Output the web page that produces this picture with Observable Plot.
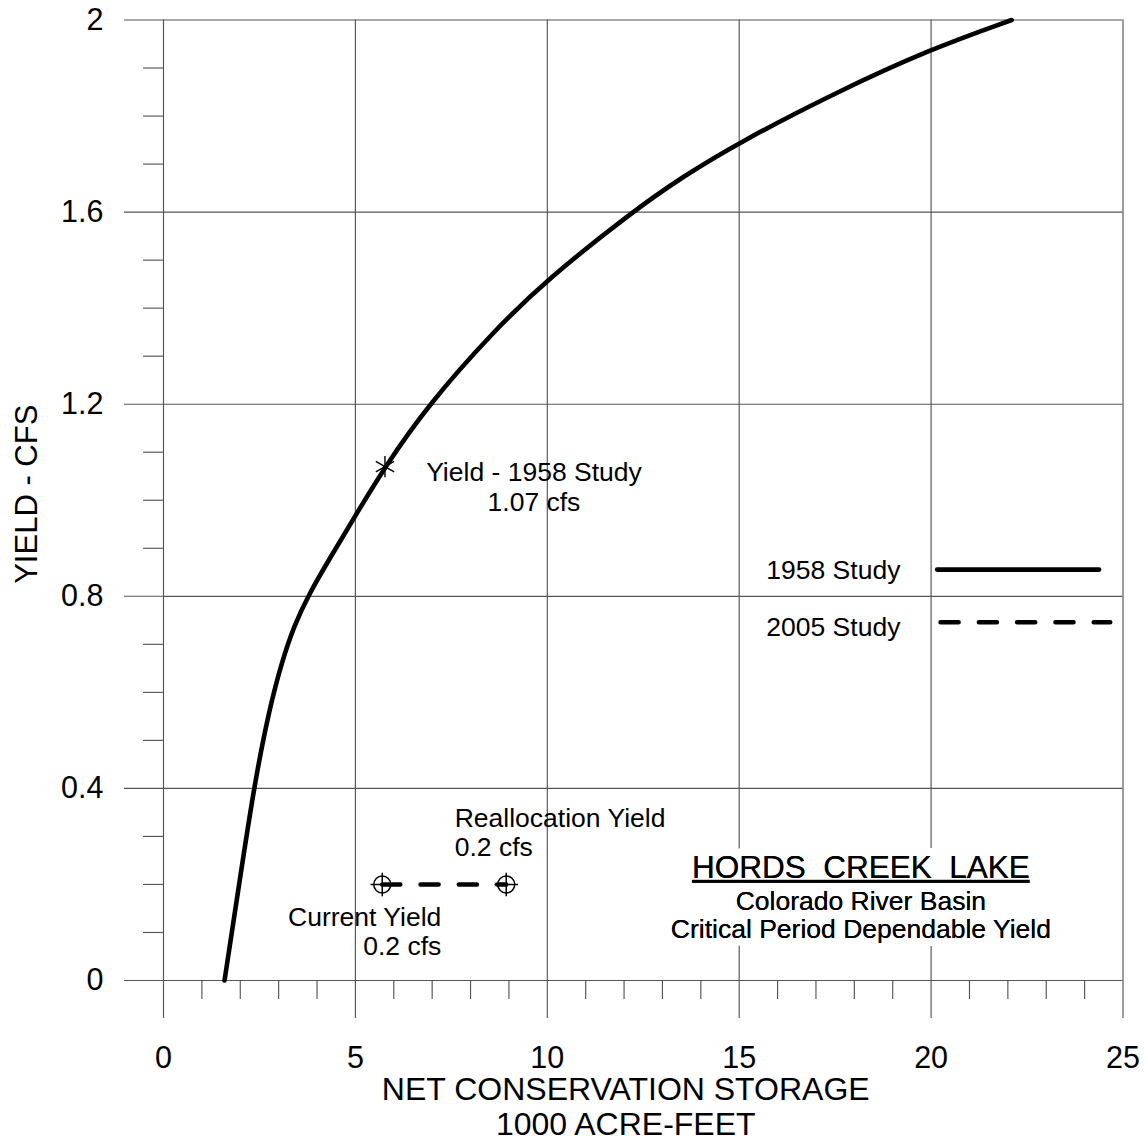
<!DOCTYPE html>
<html>
<head>
<meta charset="utf-8">
<script src="https://cdn.jsdelivr.net/npm/d3@7"></script>
<script src="https://cdn.jsdelivr.net/npm/@observablehq/plot@0.6"></script>
<style>
  html, body { margin: 0; padding: 0; background: #fff; }
  #chart svg { display: block; }
  #chart svg text { white-space: pre; }
</style>
</head>
<body>
<div id="chart"></div>
<script>
// 1958 study: net conservation storage (1000 acre-feet) vs. dependable yield (cfs)
const storage1958 = [1.59, 1.97, 2.35, 2.74, 3.09, 3.40, 3.78, 4.31, 5.0, 5.77, 6.91, 8.60, 10.0, 12.2, 13.55, 15.0, 17.46, 20.0, 22.1];
const yield1958   = [0, 0.20, 0.40, 0.56, 0.665, 0.738, 0.803, 0.876, 0.968, 1.07, 1.20, 1.352, 1.46, 1.60, 1.675, 1.745, 1.847, 1.94, 2.00];

// Yield reported by the 1958 study
const studyStorage = 5.77;
const studyYield = 1.07;

// 2005 study: current and reallocation yields
const storage2005 = [5.7, 8.93];
const yield2005 = [0.2, 0.2];
const names2005 = ["Current Yield", "Reallocation Yield"];

// Axis ticks and labels
const xTicks = [0, 5, 10, 15, 20, 25];
const xTickLabels = ["0", "5", "10", "15", "20", "25"];
const xMinorTicks = [1, 2, 3, 4, 6, 7, 8, 9, 11, 12, 13, 14, 16, 17, 18, 19, 21, 22, 23, 24];
const yTicks = [0, 0.4, 0.8, 1.2, 1.6, 2];
const yTickLabels = ["0", "0.4", "0.8", "1.2", "1.6", "2"];
const yMinorTicks = [0.1, 0.2, 0.3, 0.5, 0.6, 0.7, 0.9, 1.0, 1.1, 1.3, 1.4, 1.5, 1.7, 1.8, 1.9];

// Legend entries
const legendLabels = ["1958 Study", "2005 Study"];

// Title block
const titleLines = ["HORDS  CREEK  LAKE", "Colorado River Basin", "Critical Period Dependable Yield"];

const curve1958 = storage1958.map((s, i) => ({storage: s, yield: yield1958[i]}));
const points2005 = storage2005.map((s, i) => ({storage: s, yield: yield2005[i], name: names2005[i]}));
const studyPoint = [{storage: studyStorage, yield: studyYield}];

const xLabel = new Map(xTicks.map((t, i) => [t, xTickLabels[i]]));
const yLabel = new Map(yTicks.map((t, i) => [t, yTickLabels[i]]));

const gray = "#555";
const lineW = 1.15;
const dash = "18,20.3";
const font = "'Liberation Sans', Arial, sans-serif";

// title block: white halo underneath, then the lettering itself
const titleMarks = (halo) => [
  Plot.text([titleLines[0]], {x: 18.17, y: 0.2349, text: d => d, fontSize: 31.5, fill: "#000",
    ...(halo ? {stroke: "#fff", strokeWidth: 16} : {className: "lake-title"})}),
  Plot.text(titleLines.slice(1), {x: 18.17, y: [0.1649, 0.1062], text: d => d, fontSize: 26.5, fill: "#000",
    ...(halo ? {stroke: "#fff", strokeWidth: 16} : {})})
];

const plot = Plot.plot({
  width: 1145,
  height: 1143,
  marginLeft: 163,
  marginRight: 22.5,
  marginTop: 19.5,
  marginBottom: 163,
  x: {domain: [0, 25]},
  y: {domain: [0, 2]},
  style: {fontFamily: font, background: "#fff", color: "#000", overflow: "visible"},
  marks: [
    // grid and frame
    Plot.ruleX(xTicks, {stroke: gray, strokeWidth: lineW}),
    Plot.ruleY(yTicks, {stroke: gray, strokeWidth: lineW}),
    // minor ticks
    Plot.axisX(xMinorTicks, {anchor: "bottom", tickSize: 19, text: null, stroke: gray, strokeWidth: lineW, label: null}),
    Plot.axisY(yMinorTicks, {anchor: "left", tickSize: 20, text: null, stroke: gray, strokeWidth: lineW, label: null}),
    // major ticks with labels
    Plot.axisX(xTicks, {anchor: "bottom", tickSize: 38, tickPadding: 28, fontSize: 30.5, fill: "#000",
      tickFormat: d => xLabel.get(d), stroke: gray, strokeWidth: lineW, label: null}),
    Plot.axisY(yTicks, {anchor: "left", tickSize: 39, tickPadding: 21, fontSize: 30.5, fill: "#000",
      tickFormat: d => yLabel.get(d), stroke: gray, strokeWidth: lineW, label: null}),

    // axis titles
    Plot.text(["NET CONSERVATION STORAGE\n1000 ACRE-FEET"], {frameAnchor: "bottom", lineAnchor: "middle",
      text: d => d, dx: -17.5, dy: 126, fontSize: 32, lineHeight: 1.1, fill: "#000"}),
    Plot.text(["YIELD - CFS"], {frameAnchor: "left", textAnchor: "middle", lineAnchor: "middle",
      text: d => d, rotate: -90, dx: -136, dy: -6, fontSize: 31, fill: "#000"}),

    // 1958 study curve
    Plot.line(curve1958, {x: "storage", y: "yield", curve: "basis", stroke: "#000",
      strokeWidth: 4.6, strokeLinecap: "round", strokeLinejoin: "round"}),

    // 2005 study
    Plot.line(points2005, {x: "storage", y: "yield", stroke: "#000", strokeWidth: 4.6,
      strokeDasharray: dash, strokeLinecap: "round"}),
    Plot.dot(points2005, {x: "storage", y: "yield", r: 8.5, stroke: "#000", strokeWidth: 1.5, fill: "none"}),
    Plot.dot(points2005, {x: "storage", y: "yield", symbol: "plus", r: 7.6, stroke: "#000", strokeWidth: 1.5}),

    // 1958 study yield marker
    Plot.dot(studyPoint, {x: "storage", y: "yield", symbol: "asterisk", r: 10, stroke: "#000", strokeWidth: 1.4}),

    // point annotations
    Plot.text(studyPoint, {x: "storage", y: "yield", text: d => `Yield - 1958 Study\n${d.yield.toFixed(2)} cfs`,
      dx: 149, dy: 20, fontSize: 26.5, lineHeight: 1.13, textAnchor: "middle", fill: "#000"}),
    Plot.text(points2005.filter(d => d.name === "Reallocation Yield"), {x: "storage", y: "yield",
      text: d => `${d.name}\n${d.yield} cfs`, dx: -51.5, dy: -52, fontSize: 26.5, lineHeight: 1.1,
      textAnchor: "start", fill: "#000"}),
    Plot.text(points2005.filter(d => d.name === "Current Yield"), {x: "storage", y: "yield",
      text: d => `${d.name}\n${d.yield} cfs`, dx: 59, dy: 46.5, fontSize: 26.5, lineHeight: 1.1,
      textAnchor: "end", fill: "#000"}),

    // legend
    Plot.ruleY([0.8556], {x1: 20.17, x2: 24.39, stroke: "#000", strokeWidth: 4.6, strokeLinecap: "round"}),
    Plot.ruleY([0.7461], {x1: 20.26, x2: 24.68, stroke: "#000", strokeWidth: 4.6, strokeLinecap: "round",
      strokeDasharray: dash}),
    Plot.text(legendLabels, {x: 19.2, y: [0.8536, 0.7356], text: d => d, textAnchor: "end",
      fontSize: 26.5, fill: "#000"}),

    // title block
    ...titleMarks(true),
    ...titleMarks(false)
  ]
});

d3.select(plot).selectAll(".lake-title text").attr("text-decoration", "underline");
document.getElementById("chart").appendChild(plot);
</script>
</body>
</html>
